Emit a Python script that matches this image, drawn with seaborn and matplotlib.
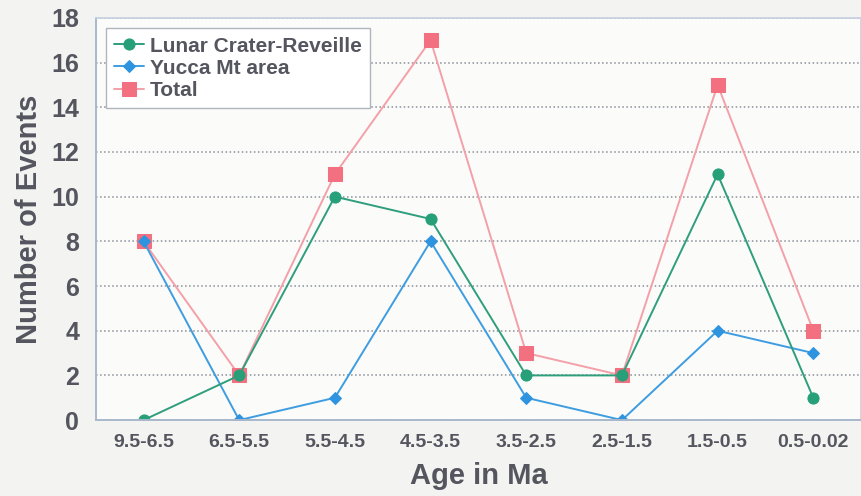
import numpy as np
import pandas as pd
import matplotlib.pyplot as plt
import seaborn as sns

# Age bins (Ma) and event counts per bin
age_bins = ['9.5-6.5', '6.5-5.5', '5.5-4.5', '4.5-3.5', '3.5-2.5', '2.5-1.5', '1.5-0.5', '0.5-0.02']
lunar_crater = [0, 2, 10, 9, 2, 2, 11, 1]
yucca_mt = [8, 0, 1, 8, 1, 0, 4, 3]
total = [8, 2, 11, 17, 3, 2, 15, 4]

series_names = ['Lunar Crater-Reveille', 'Yucca Mt area', 'Total']
series_values = [lunar_crater, yucca_mt, total]

# long format table for seaborn
pos = np.arange(len(age_bins))
df = pd.concat([
    pd.DataFrame({'pos': pos, 'Age': age_bins, 'Events': vals, 'Series': name})
    for name, vals in zip(series_names, series_values)
], ignore_index=True)

sns.set_theme(style="white")
plt.rcParams['font.family'] = ['Liberation Sans', 'DejaVu Sans']

text_col = '#55555f'
line_cols = {'Lunar Crater-Reveille': '#2f9e7c', 'Yucca Mt area': '#3d9de0', 'Total': '#f3a0a8'}
marker_cols = {'Lunar Crater-Reveille': '#27a07a', 'Yucca Mt area': '#2f94e0', 'Total': '#f2707f'}
markers = {'Lunar Crater-Reveille': 'o', 'Yucca Mt area': 'D', 'Total': 's'}
msize = {'Lunar Crater-Reveille': 8, 'Yucca Mt area': 6, 'Total': 10}

fig = plt.figure(figsize=(8.62, 4.96), dpi=100, facecolor='#f3f3f1')
ax = fig.add_axes([0.111, 0.153, 0.888, 0.811])
ax.set_facecolor('#fbfbfa')

# draw total first so the other lines sit on top
for name in ['Total', 'Yucca Mt area', 'Lunar Crater-Reveille']:
    sub = df[df['Series'] == name]
    sns.lineplot(data=sub, x='pos', y='Events', ax=ax, color=line_cols[name],
                 marker=markers[name], markersize=msize[name],
                 markerfacecolor=marker_cols[name], markeredgecolor=marker_cols[name],
                 linewidth=1.4, label=name, sort=False)

ax.set_xlim(-0.5, len(age_bins) - 0.5)
ax.set_ylim(0, 18)
ax.set_yticks(range(0, 19, 2))
ax.set_xticks(pos)
ax.set_xticklabels(age_bins)
ax.set_xticks(np.arange(0.5, len(age_bins) - 1, 1), minor=True)
ax.tick_params(axis='x', which='major', length=0, pad=10, labelsize=14, labelcolor=text_col)
ax.tick_params(axis='x', which='minor', direction='in', length=7, color='#9aa0a8', width=1.2)
ax.tick_params(axis='y', length=0, pad=12, labelsize=18, labelcolor=text_col)
for lab in ax.get_xticklabels() + ax.get_yticklabels():
    lab.set_fontweight('bold')

ax.yaxis.grid(True, linestyle=':', color='#8a8f99', linewidth=1.1)
ax.set_axisbelow(True)
for s in ['top', 'right']:
    ax.spines[s].set_color('#c8d0e0')
for s in ['left', 'bottom']:
    ax.spines[s].set_color('#a9b8cc')
    ax.spines[s].set_linewidth(1.4)

ax.set_xlabel('Age in Ma', fontsize=21, fontweight='bold', color=text_col, labelpad=8)
ax.set_ylabel('Number of Events', fontsize=21, fontweight='bold', color=text_col, labelpad=6)

# legend in original order
handles, labels = ax.get_legend_handles_labels()
order = [labels.index(n) for n in series_names]
leg = ax.legend([handles[i] for i in order], [labels[i] for i in order],
                loc='upper left', bbox_to_anchor=(0.0, 1.0), frameon=True, fancybox=False,
                prop={'weight': 'bold', 'size': 15}, handlelength=1.4, handletextpad=0.3,
                labelspacing=0.15, borderpad=0.4, labelcolor=text_col)
leg.get_frame().set_edgecolor('#b0b4bc')
leg.get_frame().set_facecolor('white')
leg.get_frame().set_alpha(1)

plt.savefig('out.png', dpi=100, facecolor=fig.get_facecolor())
